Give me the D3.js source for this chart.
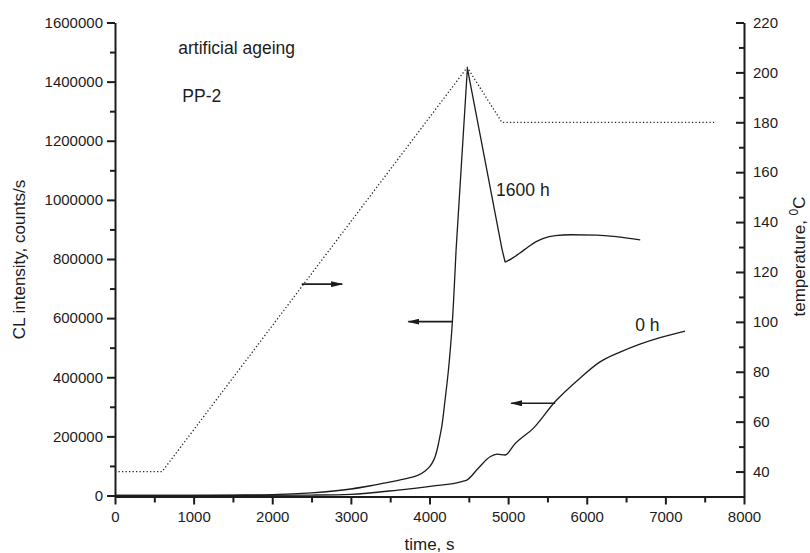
<!DOCTYPE html>
<html><head><meta charset="utf-8">
<script src="https://cdn.jsdelivr.net/npm/d3@7"></script>
<style>
body{margin:0;background:#fff;}
svg text{font-family:"Liberation Sans",Arial,Helvetica,sans-serif;fill:#1c1c1c;}
</style></head><body>
<svg id="chart" width="810" height="553"></svg>
<script>
// CL intensity (counts/s) vs time (s), aged sample (1600 h)
const cl1600hTime  = [0, 1000, 1500, 2000, 2500, 3000, 3250, 3500, 3700, 3850, 3944, 4010, 4050, 4071, 4110, 4140, 4156, 4198, 4250, 4291, 4338, 4482, 4920, 4962, 5050, 5150, 5250, 5350, 5450, 5600, 5800, 6127, 6400, 6680];
const cl1600hValue = [0, 500, 1500, 3000, 9000, 22000, 33000, 46000, 57000, 68000, 83000, 100000, 118000, 131000, 170000, 210000, 233000, 323000, 450000, 588000, 830000, 1445000, 836000, 789000, 802000, 820000, 840000, 858000, 870000, 879000, 882000, 881000, 875000, 865000];

// CL intensity vs time, unaged sample (0 h)
const cl0hTime  = [0, 1500, 2500, 3000, 3600, 4030, 4410, 4480, 4620, 4770, 4860, 4960, 5090, 5320, 5596, 5914, 6169, 6423, 6677, 6932, 7250];
const cl0hValue = [0, 0, 1500, 4000, 18500, 32000, 47000, 53000, 92000, 131000, 140000, 137000, 176000, 227000, 317000, 397000, 452000, 485000, 512000, 534000, 556000];

// oven temperature programme (°C)
const tempTime  = [0, 600, 4480, 4920, 7620];
const tempValue = [40, 40, 202, 180, 180];

// tick values
const xTicks      = [0, 1000, 2000, 3000, 4000, 5000, 6000, 7000, 8000];
const xMinorTicks = [500, 1500, 2500, 3500, 4500, 5500, 6500, 7500];
const yTicks      = [0, 200000, 400000, 600000, 800000, 1000000, 1200000, 1400000, 1600000];
const yMinorTicks = [100000, 300000, 500000, 700000, 900000, 1100000, 1300000, 1500000];
const tTicks      = [40, 60, 80, 100, 120, 140, 160, 180, 200, 220];
const tMinorTicks = [50, 70, 90, 110, 130, 150, 170, 190, 210];

// arrows pointing to the axis each curve belongs to (time from, time to, CL level)
const arrowFrom  = [2375, 4291, 5598];
const arrowTo    = [2888, 3731, 5038];
const arrowLevel = [715000, 588000, 312000];

// in-plot annotations (time, CL level)
const noteText  = ["artificial ageing", "PP-2", "1600 h", "0 h"];
const noteTime  = [805, 856, 4847, 6616];
const noteLevel = [1492000, 1330000, 1013000, 556000];

const svg = d3.select("#chart");
const plotLeft = 115, plotRight = 744, plotTop = 22.5, plotBottom = 496.5;

const x  = d3.scaleLinear().domain([0, 8000]).range([plotLeft, plotRight]);
const y  = d3.scaleLinear().domain([-3400, 1600000]).range([plotBottom, plotTop]);
const yT = d3.scaleLinear().domain([30, 220]).range([plotBottom, plotTop]);

const ink = "#1c1c1c";

svg.append("defs").append("marker")
  .attr("id", "head")
  .attr("viewBox", "0 -3 12 6")
  .attr("refX", 11).attr("refY", 0)
  .attr("markerUnits", "userSpaceOnUse")
  .attr("markerWidth", 12).attr("markerHeight", 6)
  .attr("orient", "auto")
  .append("path").attr("d", "M0,-3L12,0L0,3Z").attr("fill", ink);

function styleAxis(g, fontSize) {
  g.selectAll(".domain").attr("stroke", ink).attr("stroke-width", 2);
  g.selectAll(".tick line").attr("stroke", ink).attr("stroke-width", 2);
  g.selectAll(".tick text").style("font-size", fontSize + "px").attr("fill", ink);
  g.attr("font-family", null);
}

// minor ticks
svg.append("g").attr("transform", `translate(0,${plotBottom})`)
  .call(d3.axisBottom(x).tickValues(xMinorTicks).tickSize(6).tickFormat(""))
  .call(g => { styleAxis(g, 15); g.select(".domain").remove(); });
svg.append("g").attr("transform", `translate(${plotLeft},0)`)
  .call(d3.axisLeft(y).tickValues(yMinorTicks).tickSize(5).tickFormat(""))
  .call(g => { styleAxis(g, 15); g.select(".domain").remove(); });
svg.append("g").attr("transform", `translate(${plotRight},0)`)
  .call(d3.axisRight(yT).tickValues(tMinorTicks).tickSize(-5).tickFormat(""))
  .call(g => { styleAxis(g, 15); g.select(".domain").remove(); });

// major axes
svg.append("g").attr("transform", `translate(0,${plotBottom})`)
  .call(d3.axisBottom(x).tickValues(xTicks).tickSize(8).tickSizeOuter(0).tickPadding(7).tickFormat(d3.format("d")))
  .call(g => styleAxis(g, 15));
svg.append("g").attr("transform", `translate(${plotLeft},0)`)
  .call(d3.axisLeft(y).tickValues(yTicks).tickSize(8).tickSizeOuter(0).tickPadding(4).tickFormat(d3.format("d")))
  .call(g => styleAxis(g, 15));
svg.append("g").attr("transform", `translate(${plotRight},0)`)
  .call(d3.axisRight(yT).tickValues(tTicks).tickSizeInner(-8).tickSizeOuter(0).tickPadding(9).tickFormat(d3.format("d")))
  .call(g => styleAxis(g, 15));

// axis titles
svg.append("text")
  .attr("x", (plotLeft + plotRight) / 2).attr("y", 550)
  .attr("text-anchor", "middle").style("font-size", "17px")
  .text("time, s");
svg.append("text")
  .attr("transform", `translate(25,${(plotTop + plotBottom) / 2}) rotate(-90)`)
  .attr("text-anchor", "middle").style("font-size", "17px")
  .text("CL intensity, counts/s");
const tLab = svg.append("text")
  .attr("transform", `translate(805,${(plotTop + plotBottom) / 2 - 3}) rotate(-90)`)
  .attr("text-anchor", "middle").style("font-size", "17px");
tLab.append("tspan").text("temperature, ");
tLab.append("tspan").attr("dy", -7).style("font-size", "12px").text("0");
tLab.append("tspan").attr("dy", 7).text("C");

// temperature programme (dotted)
const tempLine = d3.line().x((d, i) => x(tempTime[i])).y(d => yT(d));
svg.append("path")
  .datum(tempValue)
  .attr("d", tempLine)
  .attr("fill", "none").attr("stroke", "#2a2a2a")
  .attr("stroke-width", 1.3).attr("stroke-dasharray", "1.3,2.2");

// CL curves: smooth runs, with the sharp peak of the aged sample drawn as straight segments
function drawRun(times, values, i0, i1, curveType) {
  const idx = d3.range(i0, i1 + 1);
  const line = d3.line().x(i => x(times[i])).y(i => y(values[i])).curve(curveType);
  svg.append("path").datum(idx).attr("d", line)
    .attr("fill", "none").attr("stroke", ink).attr("stroke-width", 1.3)
    .attr("stroke-linejoin", "round");
}
drawRun(cl0hTime, cl0hValue, 0, cl0hTime.length - 1, d3.curveMonotoneX);

const peak = d3.maxIndex(cl1600hValue);
drawRun(cl1600hTime, cl1600hValue, 0, peak - 1, d3.curveMonotoneX);
drawRun(cl1600hTime, cl1600hValue, peak - 1, peak + 2, d3.curveLinear);
drawRun(cl1600hTime, cl1600hValue, peak + 2, cl1600hTime.length - 1, d3.curveMonotoneX);

// arrows
svg.selectAll(".arrow").data(arrowLevel).join("line")
  .attr("class", "arrow")
  .attr("x1", (d, i) => x(arrowFrom[i])).attr("x2", (d, i) => x(arrowTo[i]))
  .attr("y1", d => y(d)).attr("y2", d => y(d))
  .attr("stroke", ink).attr("stroke-width", 1.6)
  .attr("marker-end", "url(#head)");

// annotations
svg.selectAll(".note").data(noteText).join("text")
  .attr("class", "note")
  .attr("x", (d, i) => x(noteTime[i])).attr("y", (d, i) => y(noteLevel[i]))
  .style("font-size", "17.5px")
  .text(d => d);
</script>
</body></html>
